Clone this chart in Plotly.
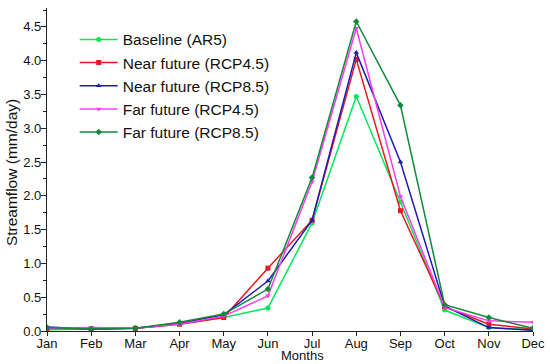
import plotly.graph_objects as go

months = ["Jan", "Feb", "Mar", "Apr", "May", "Jun", "Jul", "Aug", "Sep", "Oct", "Nov", "Dec"]
baseline = [0.02, 0.03, 0.04, 0.10, 0.20, 0.34, 1.60, 3.47, 1.91, 0.31, 0.05, 0.02]
near45 = [0.04, 0.03, 0.04, 0.10, 0.20, 0.93, 1.64, 4.02, 1.78, 0.36, 0.10, 0.03]
near85 = [0.06, 0.03, 0.04, 0.11, 0.24, 0.74, 1.64, 4.12, 2.50, 0.37, 0.05, 0.01]
far45 = [0.04, 0.05, 0.04, 0.10, 0.22, 0.52, 2.21, 4.48, 1.99, 0.35, 0.15, 0.13]
far85 = [0.05, 0.03, 0.04, 0.13, 0.25, 0.62, 2.27, 4.58, 3.34, 0.39, 0.20, 0.04]

names = ["Baseline (AR5)", "Near future (RCP4.5)", "Near future (RCP8.5)",
         "Far future (RCP4.5)", "Far future (RCP8.5)"]
series = [baseline, near45, near85, far45, far85]
colors = ["#00E85A", "#E8191E", "#1C1CB4", "#FF3CF0", "#11883A"]
symbols = ["circle", "square", "triangle-up", "triangle-down", "diamond"]

fig = go.Figure()
for n, s, c, m in zip(names, series, colors, symbols):
    fig.add_trace(go.Scatter(
        x=list(range(12)), y=s, name=n, mode="lines+markers",
        line=dict(color=c, width=1.5),
        marker=dict(symbol=m, size=5, color=c),
    ))

fig.update_layout(
    width=550, height=364,
    margin=dict(l=47, r=17, t=8, b=33),
    plot_bgcolor="white", paper_bgcolor="white",
    font=dict(family="Liberation Sans, Arial, sans-serif", color="#111"),
    showlegend=True,
    legend=dict(x=0.057, y=0.954, xanchor="left", yanchor="top",
                font=dict(size=15.5, color="#111"), bgcolor="rgba(0,0,0,0)",
                tracegroupgap=0, itemwidth=38),
    xaxis=dict(
        range=[0, 11], tickvals=list(range(12)), ticktext=months,
        showline=True, linecolor="#222", linewidth=1.2, mirror=False,
        ticks="outside", ticklen=4, tickcolor="#222",
        showgrid=False, zeroline=False, automargin=False,
        tickfont=dict(size=13), ticklabelstandoff=-4,
    ),
    yaxis=dict(
        range=[0, 4.78], tickvals=[0, 0.5, 1, 1.5, 2, 2.5, 3, 3.5, 4, 4.5],
        ticktext=["0.0", "0.5", "1.0", "1.5", "2.0", "2.5", "3.0", "3.5", "4.0", "4.5"],
        showline=True, linecolor="#222", linewidth=1.2,
        ticks="outside", ticklen=5, tickcolor="#222",
        minor=dict(dtick=0.25, tick0=0, ticks="outside", ticklen=3, tickcolor="#222"),
        showgrid=False, zeroline=False, automargin=False,
        tickfont=dict(size=13), ticklabelstandoff=-3,
    ),
    annotations=[
        dict(text="Months", xref="paper", yref="paper", x=0.525, y=-0.076,
             xanchor="center", yanchor="middle", showarrow=False,
             font=dict(size=13, color="#111")),
        dict(text="Streamflow (mm/day)", xref="paper", yref="paper", x=-0.074, y=0.489,
             xanchor="center", yanchor="middle", textangle=-90, showarrow=False,
             font=dict(size=15.5, color="#111")),
    ],
)

fig.write_html("out.html", config={"displayModeBar": False},
               post_script="document.body.style.margin='0';document.body.style.overflow='hidden';")
